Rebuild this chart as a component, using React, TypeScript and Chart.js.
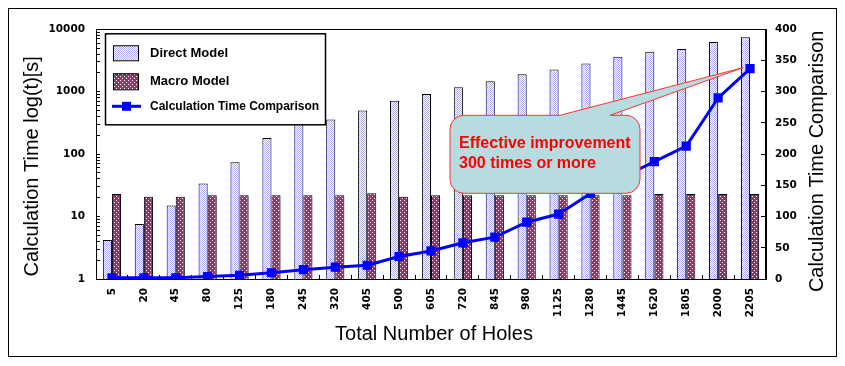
import React, { useEffect, useRef } from 'react';
import { Chart, registerables } from 'chart.js';

Chart.register(...registerables);

const categories = ['5', '20', '45', '80', '125', '180', '245', '320', '405', '500', '605', '720', '845', '980', '1125', '1280', '1445', '1620', '1805', '2000', '2205'];
const directModel = [4.2, 7.6, 15, 34, 74, 181, 312, 360, 500, 716, 922, 1180, 1470, 1900, 2280, 2830, 3640, 4370, 4850, 6250, 7440];
const macroModel = [23, 20.8, 20.8, 22, 22, 22, 22, 22, 23.7, 20.8, 22, 22, 22, 22, 22, 22, 22, 23, 23, 23, 23];
const timeComparison = [2, 2, 2, 4, 6, 10, 15, 19, 22, 36, 45, 58, 67, 91, 104, 137, 163, 188, 213, 290, 337];
const leftTickLabels = ['1', '10', '100', '1000', '10000'];
const leftMinorSteps = [2, 3, 4, 5, 6, 7, 8, 9];
const rightTickLabels = ['0', '50', '100', '150', '200', '250', '300', '350', '400'];
const seriesLabels = ['Direct Model', 'Macro Model', 'Calculation Time Comparison'];
const leftTitle = 'Calculation Time log(t)[s]';
const rightTitle = 'Calculation Time Comparison';
const xTitle = 'Total Number of Holes';
const calloutLines = ['Effective improvement', '300 times or more'];

const SANS = '"Liberation Sans", Arial, sans-serif';
const TICK_FONT = { family: '"DejaVu Sans", sans-serif', size: 10.5, weight: 'bold' as const };

function makePattern(bg: string, dot: string, size: number, dots: number[][]) {
  const c = document.createElement('canvas');
  c.width = size;
  c.height = size;
  const g = c.getContext('2d')!;
  g.fillStyle = bg;
  g.fillRect(0, 0, size, size);
  g.fillStyle = dot;
  dots.forEach(([x, y]) => g.fillRect(x, y, 1, 1));
  return g.createPattern(c, 'repeat')!;
}

export default function App() {
  const ref = useRef<HTMLCanvasElement>(null);

  useEffect(() => {
    const canvas = ref.current!;
    const directFill = makePattern('#ffffff', '#adadf6', 2, [[0, 0], [1, 1]]);
    const macroFill = makePattern('#993366', '#ffffff', 4, [[0, 0], [2, 2]]);

    const decor = {
      id: 'decor',
      beforeDraw(chart: any) {
        const ctx = chart.ctx;
        ctx.save();
        ctx.fillStyle = '#ffffff';
        ctx.fillRect(0, 0, chart.width, chart.height);
        ctx.strokeStyle = '#000000';
        ctx.lineWidth = 1;
        ctx.strokeRect(0.5, 0.5, chart.width - 1, chart.height - 1);
        ctx.restore();
      },
      afterDraw(chart: any) {
        const ctx = chart.ctx;
        const ca = chart.chartArea;
        ctx.save();
        // plot area box
        ctx.strokeStyle = '#000';
        ctx.lineWidth = 1;
        ctx.strokeRect(Math.round(ca.left) + 0.5, Math.round(ca.top) + 0.5, Math.round(ca.right - ca.left) - 1, Math.round(ca.bottom - ca.top));

        // legend
        const lx = ca.left + 9;
        const ly = ca.top + 4;
        ctx.fillStyle = '#fff';
        ctx.fillRect(lx, ly, 220, 91);
        ctx.strokeStyle = '#000';
        ctx.lineWidth = 1.5;
        ctx.strokeRect(lx + 0.5, ly + 0.5, 220, 91);
        ctx.lineWidth = 1;
        ctx.fillStyle = directFill;
        ctx.fillRect(lx + 8, ly + 12, 25, 15);
        ctx.strokeRect(lx + 8.5, ly + 12.5, 25, 15);
        ctx.fillStyle = macroFill;
        ctx.fillRect(lx + 8, ly + 40, 25, 16);
        ctx.strokeRect(lx + 8.5, ly + 40.5, 25, 16);
        ctx.strokeStyle = '#0000ff';
        ctx.lineWidth = 3;
        ctx.beginPath();
        ctx.moveTo(lx + 7, ly + 73);
        ctx.lineTo(lx + 36, ly + 73);
        ctx.stroke();
        ctx.fillStyle = '#0000ff';
        ctx.fillRect(lx + 17, ly + 68.5, 9, 9);
        ctx.fillStyle = '#000';
        ctx.textAlign = 'left';
        ctx.textBaseline = 'middle';
        ctx.font = `bold 13px ${SANS}`;
        ctx.fillText(seriesLabels[0], lx + 45, ly + 20);
        ctx.fillText(seriesLabels[1], lx + 45, ly + 48.5);
        ctx.font = `bold 12px ${SANS}`;
        ctx.fillText(seriesLabels[2], lx + 45, ly + 73.5);

        // callout
        const xs = chart.scales.x;
        const ys = chart.scales.y1;
        const last = timeComparison.length - 1;
        const tipX = xs.getPixelForValue(last) - 7;
        const tipY = ys.getPixelForValue(timeComparison[last]) - 1;
        const L = ca.left + 354, T = ca.top + 86, R = ca.left + 544, B = ca.top + 164, r = 14;
        const bl = ca.left + 464, br = ca.left + 514;
        ctx.beginPath();
        ctx.moveTo(L + r, T);
        ctx.lineTo(bl, T);
        ctx.lineTo(tipX, tipY);
        ctx.lineTo(br, T);
        ctx.lineTo(R - r, T);
        ctx.arcTo(R, T, R, T + r, r);
        ctx.lineTo(R, B - r);
        ctx.arcTo(R, B, R - r, B, r);
        ctx.lineTo(L + r, B);
        ctx.arcTo(L, B, L, B - r, r);
        ctx.lineTo(L, T + r);
        ctx.arcTo(L, T, L + r, T, r);
        ctx.closePath();
        ctx.fillStyle = '#b6dce0';
        ctx.fill();
        ctx.strokeStyle = '#ff3333';
        ctx.lineWidth = 1;
        ctx.stroke();
        ctx.fillStyle = '#ff0000';
        ctx.font = `bold 16px ${SANS}`;
        ctx.textBaseline = 'alphabetic';
        ctx.fillText(calloutLines[0], L + 9, T + 33);
        ctx.fillText(calloutLines[1], L + 9, T + 53);

        // axis titles
        ctx.fillStyle = '#000';
        ctx.font = `20px ${SANS}`;
        ctx.textAlign = 'center';
        ctx.textBaseline = 'middle';
        ctx.save();
        ctx.translate(24, ca.top + 137);
        ctx.rotate(-Math.PI / 2);
        ctx.fillText(leftTitle, 0, 0);
        ctx.restore();
        ctx.save();
        ctx.translate(ca.right + 51, ca.top + 132);
        ctx.rotate(-Math.PI / 2);
        ctx.fillText(rightTitle, 0, 0);
        ctx.restore();
        ctx.fillText(xTitle, (ca.left + ca.right) / 2 + 3, ca.bottom + 55);
        ctx.restore();
      },
    };

    const chart = new Chart(canvas, {
      type: 'bar',
      data: {
        labels: categories,
        datasets: [
          {
            type: 'line',
            label: seriesLabels[2],
            data: timeComparison,
            yAxisID: 'y1',
            borderColor: '#0000ff',
            backgroundColor: '#0000ff',
            borderWidth: 3,
            pointStyle: 'rect',
            pointRadius: 6.5,
            pointBorderWidth: 0,
            tension: 0,
            order: 0,
          } as any,
          {
            type: 'bar',
            label: seriesLabels[0],
            data: directModel,
            yAxisID: 'y',
            backgroundColor: directFill as any,
            borderColor: '#000',
            borderWidth: 1,
            categoryPercentage: 0.57,
            barPercentage: 1,
            order: 1,
          },
          {
            type: 'bar',
            label: seriesLabels[1],
            data: macroModel,
            yAxisID: 'y',
            backgroundColor: macroFill as any,
            borderColor: '#000',
            borderWidth: 1,
            categoryPercentage: 0.57,
            barPercentage: 1,
            order: 1,
          },
        ],
      },
      options: {
        responsive: false,
        animation: false,
        events: [],
        layout: { padding: { top: 16, left: 0, right: 0, bottom: 0 } },
        plugins: { legend: { display: false }, tooltip: { enabled: false } },
        scales: {
          x: {
            type: 'category',
            grid: { drawOnChartArea: false, tickLength: -4, color: '#000', offset: true },
            border: { display: true, color: '#000', width: 1 },
            ticks: { color: '#000', font: TICK_FONT, minRotation: 90, maxRotation: 90, autoSkip: false, padding: 13 },
            afterFit(scale: any) {
              scale.height = 78;
            },
          },
          y: {
            type: 'logarithmic',
            position: 'left',
            min: 1,
            max: 10000,
            grid: { drawOnChartArea: false, tickLength: -4, color: '#000' },
            border: { display: true, color: '#000', width: 1 },
            ticks: {
              color: '#000',
              font: TICK_FONT,
              autoSkip: false,
              padding: 15,
              callback: (v: any) => (leftTickLabels.includes(String(v)) ? String(v) : ''),
            },
            afterBuildTicks(scale: any) {
              const vals: number[] = [];
              leftTickLabels.forEach((lab, i) => {
                const base = Number(lab);
                vals.push(base);
                if (i < leftTickLabels.length - 1) leftMinorSteps.forEach((m) => vals.push(base * m));
              });
              scale.ticks = vals.map((value) => ({ value }));
            },
            afterFit(scale: any) {
              scale.width = 88;
            },
          },
          y1: {
            type: 'linear',
            position: 'right',
            min: 0,
            max: 400,
            grid: { drawOnChartArea: false, tickLength: -5, color: '#000' },
            border: { display: true, color: '#000', width: 1 },
            ticks: {
              color: '#000',
              font: TICK_FONT,
              stepSize: 50,
              padding: 14,
              callback: (v: any) => (rightTickLabels.includes(String(v)) ? String(v) : ''),
            },
            afterFit(scale: any) {
              scale.width = 71;
            },
          },
        },
      } as any,
      plugins: [decor],
    });
    return () => chart.destroy();
  }, []);

  return (
    <div>
      <canvas ref={ref} width={829} height={349} style={{ display: 'block' }} />
    </div>
  );
}
